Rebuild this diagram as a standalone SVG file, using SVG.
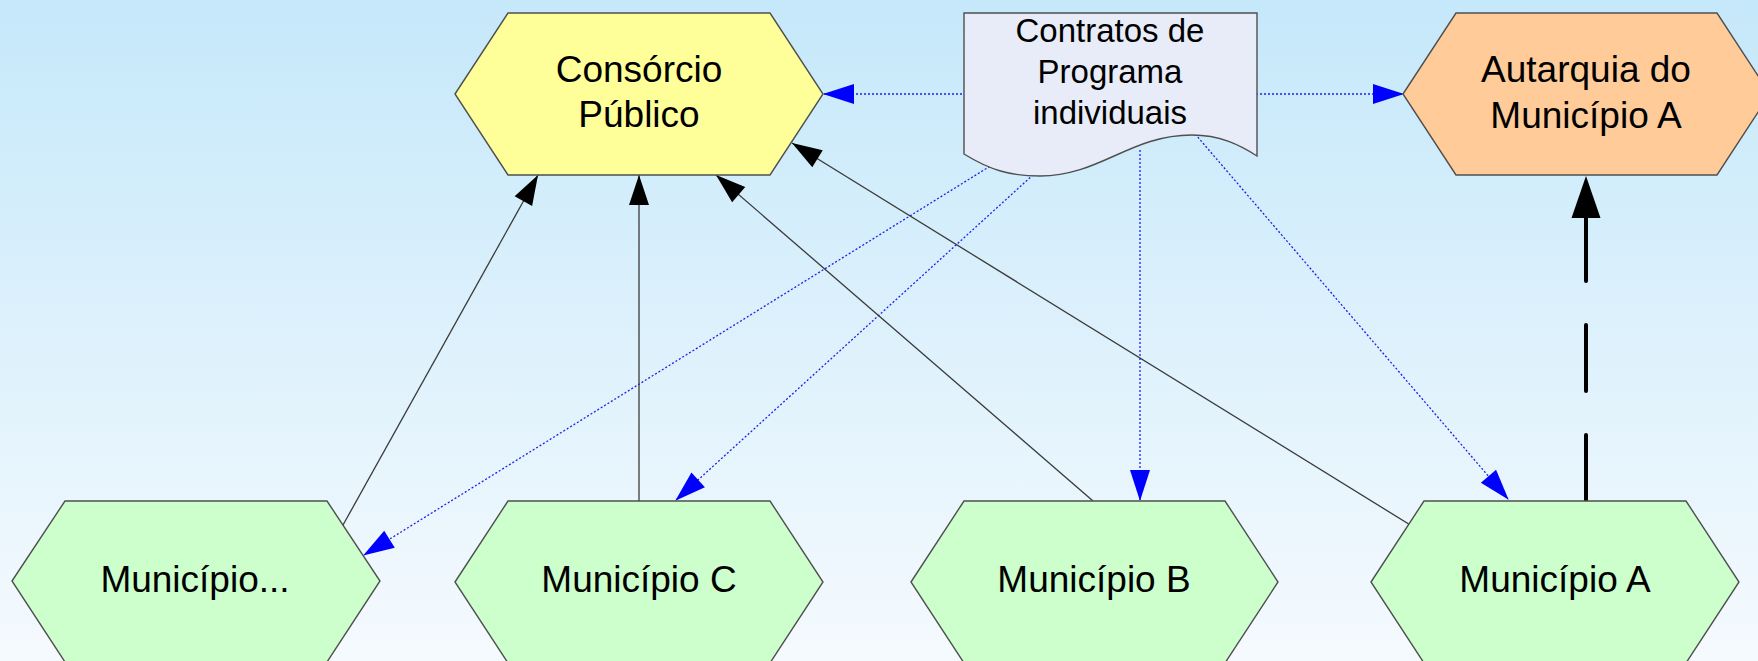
<svg xmlns="http://www.w3.org/2000/svg" width="1758" height="661" viewBox="0 0 1758 661">
<defs>
<linearGradient id="bg" x1="0" y1="0" x2="0" y2="1">
<stop offset="0" stop-color="#C5E8FA"/>
<stop offset="1" stop-color="#F5FAFE"/>
</linearGradient>
<marker id="ab" markerUnits="userSpaceOnUse" markerWidth="30" markerHeight="20" refX="30" refY="10" orient="auto" overflow="visible">
<path d="M0,0 L30,10 L0,20 Z" fill="#000"/>
</marker>
<marker id="au" markerUnits="userSpaceOnUse" markerWidth="30" markerHeight="20" refX="30" refY="10" orient="auto" overflow="visible">
<path d="M0,0 L31,10 L0,20 Z" fill="#0000FF"/>
</marker>
<marker id="abig" markerUnits="userSpaceOnUse" markerWidth="42" markerHeight="29" refX="42" refY="14.5" orient="auto" overflow="visible">
<path d="M0,0 L42,14.5 L0,29 Z" fill="#000"/>
</marker>
</defs>
<style>
.hex{stroke:#4F4F4F;stroke-width:1.4}
.mun{fill:#CCFFCC}
.t{font-family:"Liberation Sans",Arial,sans-serif;font-size:37px;fill:#000;text-anchor:middle}
.td{font-family:"Liberation Sans",Arial,sans-serif;font-size:33px;fill:#000;text-anchor:middle}
.solid{fill:none;stroke:#3A3A3A;stroke-width:1.3;marker-end:url(#ab)}
.dot{fill:none;stroke:#1F1FF0;stroke-width:1.3;stroke-dasharray:2 2;marker-end:url(#au)}
.dash{fill:none;stroke:#000;stroke-width:4;stroke-linecap:round;stroke-dasharray:66 44;marker-end:url(#abig)}
</style>
<rect x="0" y="0" width="1758" height="661" fill="url(#bg)"/>
<g id="connectors">
<path class="dot" d="M990,94 L824,94"/>
<path class="dot" d="M1240,94 L1403,94"/>
<path class="dot" d="M1000,160 L364,555"/>
<path class="dot" d="M1045,164 L676,500"/>
<path class="dot" d="M1140,150 L1140,500"/>
<path class="dot" d="M1190,128 L1508,499"/>
<path class="solid" d="M338,534 L538,175"/>
<path class="solid" d="M639,510 L639,175"/>
<path class="solid" d="M1093,501 L716,175"/>
<path class="solid" d="M1420,531 L792,143"/>
<path class="dash" d="M1586,501 L1586,176"/>
</g>
<g id="consorcio">
<polygon class="hex" fill="#FFFF99" points="455,94 508,13 770,13 823,94 770,175 508,175"/>
<text class="t" x="639" y="82">Consórcio</text>
<text class="t" x="639" y="127">Público</text>
</g>
<g id="contratos">
<path class="hex" fill="#E8ECF8" d="M964,13 L1257,13 L1257,156 C1240,145 1220,135 1192,135 C1130,135 1100,176 1040,176 C1010,176 990,170 964,154 Z"/>
<text class="td" x="1110" y="42">Contratos de</text>
<text class="td" x="1110" y="83">Programa</text>
<text class="td" x="1110" y="124">individuais</text>
</g>
<g id="autarquia">
<polygon class="hex" fill="#FFCC99" points="1403,94 1456,13 1717,13 1770,94 1717,175 1456,175"/>
<text class="t" x="1586" y="82">Autarquia do</text>
<text class="t" x="1586" y="128">Município A</text>
</g>
<g id="municipio-etc">
<polygon class="hex mun" points="12,581 65,501 327,501 380,581 327,662 65,662"/>
<text class="t" x="195" y="592">Município...</text>
</g>
<g id="municipio-c">
<polygon class="hex mun" points="455,582 508,501 770,501 823,582 770,663 508,663"/>
<text class="t" x="639" y="592">Município C</text>
</g>
<g id="municipio-b">
<polygon class="hex mun" points="911,582 964,501 1225,501 1278,582 1225,663 964,663"/>
<text class="t" x="1094" y="592">Município B</text>
</g>
<g id="municipio-a">
<polygon class="hex mun" points="1371,582 1424,501 1686,501 1739,582 1686,663 1424,663"/>
<text class="t" x="1555" y="592">Município A</text>
</g>
</svg>
